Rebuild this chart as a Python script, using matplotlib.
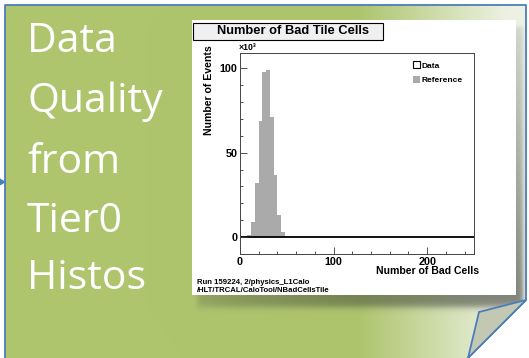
import numpy as np
import matplotlib
matplotlib.use("Agg")
from matplotlib import pyplot as plt
from matplotlib.patches import Rectangle, Polygon, Patch

# reference histogram (x10^3 events), bins of 4 cells
ref_edges = [8, 12, 16, 20, 24, 28, 32, 36, 40, 44, 48]
ref_counts = [1, 9, 32, 69, 98, 99, 71, 37, 13, 3]
# data histogram is empty over the whole range
data_edges = [0, 250]
data_counts = [0]

x_ticks = [0, 100, 200]
y_ticks = [0, 50, 100]
slide_lines = ["Data", "Quality", "from", "Tier0", "Histos"]
run_info = ["Run 159224, 2/physics_L1Calo", "/HLT/TRCAL/CaloTool/NBadCellsTile"]

W, H = 529, 358
fig = plt.figure(figsize=(W / 100, H / 100), dpi=100)

# ---- slide background (pixel coordinates) ----
bg = fig.add_axes([0, 0, 1, 1])
bg.set_xlim(0, W)
bg.set_ylim(H, 0)
bg.axis("off")

yy, xx = np.mgrid[0:H, 0:W] + 0.5
green = np.array([174, 197, 110]) / 255
light = np.array([238, 242, 229]) / 255
t = np.clip((xx - 360) / 150, 0, 1)[..., None]
img = green * (1 - t) + light * t

def sig(v, k=0.7):
    return 1 / (1 + np.exp(-k * v))

# drop shadow of the pasted histogram
sx = sig(xx - 197) * sig(523 - xx)
sy = sig(yy - 27) * sig(307 - yy, 0.5)
strength = 0.14 + 0.45 * np.sqrt(np.clip((xx - 192) / 324, 0, 1)) * np.clip((yy - 20) / 275, 0, 1)
shade = (sx * sy * strength)[..., None]
gray = np.array([0.35, 0.36, 0.33])
img = img * (1 - shade) + gray * shade * 0.6

inside = (xx >= 5) & (yy >= 5) & (xx <= 526) & (xx + yy <= 826)
img[~inside] = 1.0
img = np.clip(img, 0, 1)
bg.imshow(img, extent=(0, W, H, 0), interpolation="bilinear", zorder=0)

blue = "#4a7ebb"
bg.plot([5, 5, 526, 526, 468], [360, 5, 5, 300, 358], color=blue, lw=1.3, zorder=2)
bg.add_patch(Polygon([(526, 300), (479, 312), (468, 358)], closed=True,
                     facecolor="#c2c8b1", edgecolor=blue, lw=1.3, zorder=3))
bg.add_patch(Polygon([(0, 178.5), (6, 182), (0, 185.5)], closed=True,
                     facecolor=blue, edgecolor="none", zorder=3))

baselines = [52.3, 111.7, 172.7, 231.7, 289.3]
for word, yb in zip(slide_lines, baselines):
    bg.text(27, yb, word, color="white", fontsize=29.5, family="Open Sans",
            va="baseline", ha="left", zorder=4)

# white canvas of the histogram picture
bg.add_patch(Rectangle((192, 20), 324, 275, facecolor="white", edgecolor="none", zorder=5))
bg.add_patch(Rectangle((193, 23), 190, 17, facecolor="#f0f0f0", edgecolor="black", lw=0.8, zorder=6))
bg.text(293, 31.5, "Number of Bad Tile Cells", fontsize=9.3, weight="bold",
        family="Liberation Sans", ha="center", va="center", zorder=7)
bg.text(209.5, 45, "Number of Events", rotation=90, fontsize=7.6, weight="bold",
        family="Liberation Sans", ha="center", va="top", zorder=7)
bg.text(479, 270.5, "Number of Bad Cells", fontsize=7.6, weight="bold",
        family="Liberation Sans", ha="right", va="center", zorder=7)
bg.text(239, 47, "×10³", fontsize=6.3, family="Liberation Sans", weight="bold",
        ha="left", va="center", zorder=7)
for line, yc in zip(run_info, [282, 290.5]):
    bg.text(197, yc, line, fontsize=5.6, family="Liberation Sans", weight="bold",
            ha="left", va="center", zorder=7)

# ---- the histogram itself ----
ax = fig.add_axes([240 / W, 1 - 254 / H, 234 / W, 201 / H])
ax.set_facecolor("none")
ax.stairs(ref_counts, ref_edges, fill=True, color="#aaaaaa", label="Reference")
ax.stairs(data_counts, data_edges, color="black", lw=1.3, label="Data")
ax.set_xlim(0, 250)
ax.set_ylim(-10, 109)
ax.set_xticks(x_ticks)
ax.set_yticks(y_ticks)
ax.set_xticks(np.arange(0, 251, 20), minor=True)
ax.set_yticks(np.arange(-10, 101, 10), minor=True)
ax.tick_params(which="both", direction="in", width=0.6, colors="#333333")
ax.tick_params(which="major", length=5, pad=2)
ax.tick_params(which="minor", length=2.5)
for lab in ax.get_xticklabels() + ax.get_yticklabels():
    lab.set_fontsize(7.8)
    lab.set_fontweight("bold")
    lab.set_family("Liberation Sans")
    lab.set_color("black")
for sp in ax.spines.values():
    sp.set_linewidth(0.7)
    sp.set_color("#444444")

handles = [Patch(facecolor="white", edgecolor="black", lw=0.8, label="Data"),
           Patch(facecolor="#aaaaaa", edgecolor="none", label="Reference")]
ax.legend(handles=handles, loc="upper left", bbox_to_anchor=(0.74, 0.96), frameon=False,
          prop={"family": "Liberation Sans", "weight": "bold", "size": 6},
          handlelength=0.8, handleheight=1.0, handletextpad=0.25, labelspacing=0.75,
          borderaxespad=0.0, borderpad=0.0)

fig.savefig("out.png", dpi=100)
